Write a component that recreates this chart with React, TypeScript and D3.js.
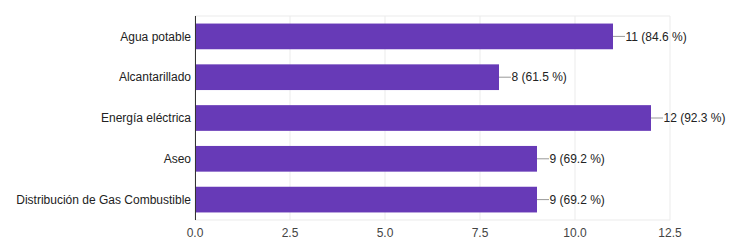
import React from "react";
import * as d3 from "d3";

const categories = [
  "Agua potable",
  "Alcantarillado",
  "Energía eléctrica",
  "Aseo",
  "Distribución de Gas Combustible",
];
const counts = [11, 8, 12, 9, 9];
const percents = ["84.6", "61.5", "92.3", "69.2", "69.2"];
const xTicks = [0, 2.5, 5, 7.5, 10, 12.5];

const W = 732;
const H = 252;
const margin = { left: 195, right: 62, top: 16, bottom: 32 };

export default function App() {
  const x = d3.scaleLinear().domain([0, 12.5]).range([margin.left, W - margin.right]);
  const y = d3
    .scaleBand<string>()
    .domain(categories)
    .range([margin.top, H - margin.bottom])
    .paddingInner(0.37)
    .paddingOuter(0.185);
  const font = "Arial, 'Liberation Sans', sans-serif";
  return (
    <svg
      width={W}
      height={H}
      style={{ position: "absolute", left: 0, top: 0, background: "#fff" }}
      fontFamily={font}
    >
      {xTicks.map((t) => (
        <line
          key={"g" + t}
          x1={x(t)}
          x2={x(t)}
          y1={margin.top}
          y2={H - margin.bottom}
          stroke="#ebebeb"
          strokeWidth={1}
        />
      ))}
      <line x1={margin.left} x2={x(12.5)} y1={margin.top} y2={margin.top} stroke="#ebebeb" />
      <line
        x1={margin.left}
        x2={x(12.5)}
        y1={H - margin.bottom}
        y2={H - margin.bottom}
        stroke="#ebebeb"
      />
      {categories.map((c, i) => {
        const by = y(c)!;
        const bh = y.bandwidth();
        const cy = by + bh / 2;
        const xe = x(counts[i]);
        return (
          <g key={c}>
            <rect x={x(0)} y={by} width={xe - x(0)} height={bh} fill="#673ab7" />
            <line x1={xe} x2={xe + 12} y1={cy} y2={cy} stroke="#999" strokeWidth={1} />
            <text x={xe + 12.5} y={cy} dy="0.35em" fontSize={12} fill="#222">
              {`${counts[i]} (${percents[i]} %)`}
            </text>
            <text x={margin.left - 4} y={cy} dy="0.35em" fontSize={12} fill="#222" textAnchor="end">
              {c}
            </text>
          </g>
        );
      })}
      <line
        x1={margin.left + 0.5}
        x2={margin.left + 0.5}
        y1={margin.top}
        y2={H - margin.bottom}
        stroke="#333"
        strokeWidth={1}
      />
      {xTicks.map((t) => (
        <text
          key={"t" + t}
          x={x(t)}
          y={236.5}
          fontSize={12}
          fill="#444"
          textAnchor="middle"
        >
          {t.toFixed(1)}
        </text>
      ))}
    </svg>
  );
}
